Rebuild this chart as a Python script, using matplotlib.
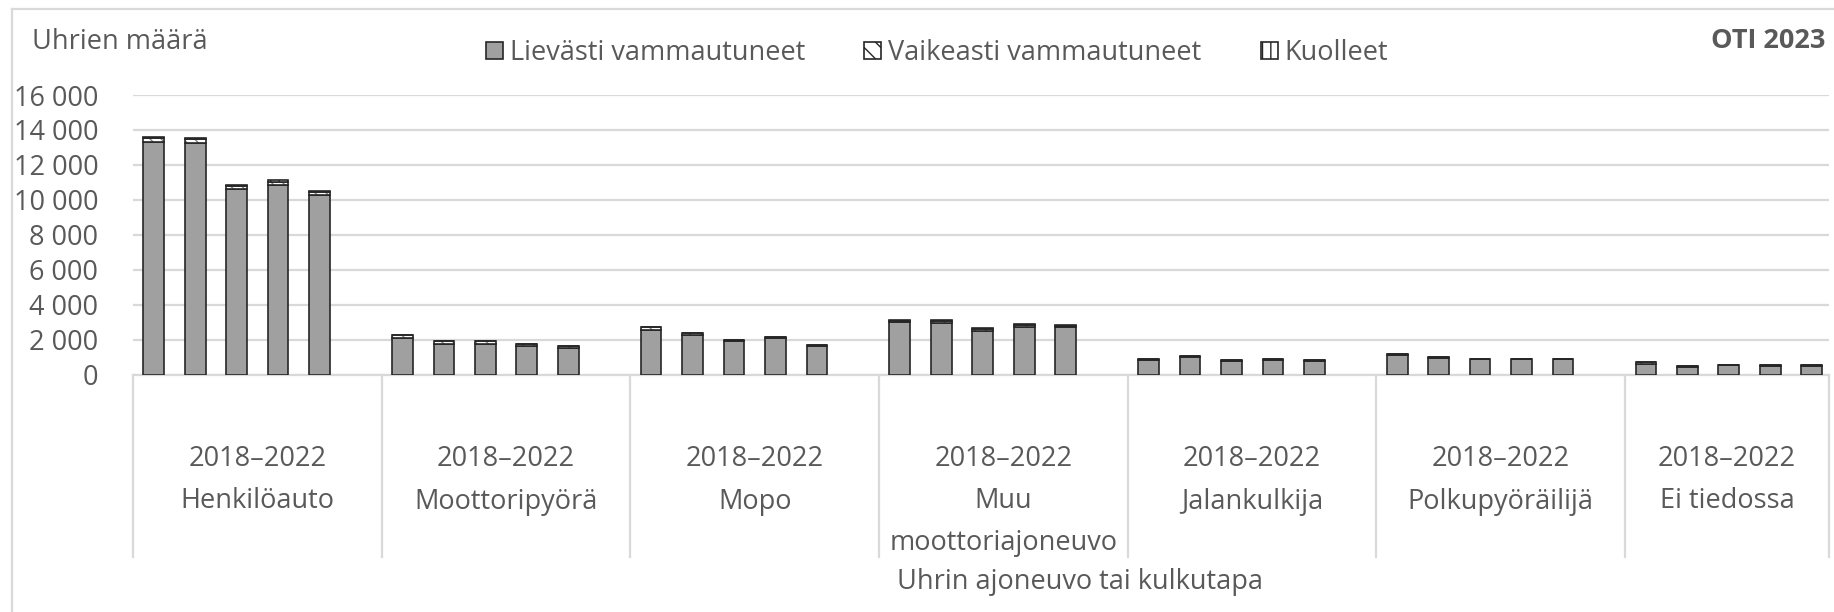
import matplotlib
matplotlib.use("Agg")
import matplotlib.pyplot as plt
from matplotlib.patches import Patch
from matplotlib.ticker import FuncFormatter, MultipleLocator
import numpy as np

# ---------------- data ----------------
groups = ["Henkilöauto", "Moottoripyörä", "Mopo", "Muu\nmoottoriajoneuvo",
          "Jalankulkija", "Polkupyöräilijä", "Ei tiedossa"]
period_label = "2018–2022"
years = [2018, 2019, 2020, 2021, 2022]

lievasti = [
    [13330, 13270, 10600, 10850, 10250],   # Henkilöauto
    [2100, 1760, 1760, 1620, 1500],        # Moottoripyörä
    [2570, 2250, 1920, 2080, 1640],        # Mopo
    [3010, 2930, 2500, 2720, 2700],        # Muu moottoriajoneuvo
    [840, 980, 780, 820, 760],             # Jalankulkija
    [1100, 940, 865, 865, 860],            # Polkupyöräilijä
    [600, 455, 520, 500, 515],             # Ei tiedossa
]
vaikeasti = [
    [180, 190, 170, 190, 170],
    [150, 130, 130, 120, 115],
    [130, 100, 70, 70, 70],
    [70, 140, 130, 130, 90],
    [45, 55, 40, 60, 55],
    [45, 40, 35, 35, 40],
    [90, 20, 25, 45, 30],
]
kuolleet = [
    [80, 70, 60, 70, 60],
    [25, 20, 20, 22, 18],
    [8, 6, 5, 5, 5],
    [20, 25, 25, 25, 20],
    [25, 25, 20, 30, 25],
    [15, 10, 10, 10, 12],
    [10, 5, 5, 5, 5],
]
series_names = ["Lievästi vammautuneet", "Vaikeasti vammautuneet", "Kuolleet"]
y_title = "Uhrien määrä"
x_title = "Uhrin ajoneuvo tai kulkutapa"
source = "OTI 2023"

# ---------------- style ----------------
FONT = "Open Sans"
FS = 19.5
TXT = "#595959"
GRID = "#d9d9d9"
GREY = "#a0a0a0"
EDGE = "#262626"
plt.rcParams["font.family"] = [FONT, "DejaVu Sans"]
plt.rcParams["hatch.linewidth"] = 1.0

W, H = 1834, 612
fig = plt.figure(figsize=(W / 100, H / 100), dpi=100)
fig.patch.set_facecolor("white")

L, R, T, B = 133, 1829, 95, 374.5
ax = fig.add_axes([L / W, 1 - B / H, (R - L) / W, (B - T) / H])

slots = 6
n_per = len(years)
xs, lv, vk, ku = [], [], [], []
for g in range(len(groups)):
    for i in range(n_per):
        xs.append(g * slots + i)
        lv.append(lievasti[g][i])
        vk.append(vaikeasti[g][i])
        ku.append(kuolleet[g][i])
xs = np.array(xs, float)
lv = np.array(lv, float)
vk = np.array(vk, float)
ku = np.array(ku, float)

bw = 0.5
ax.bar(xs, lv, bw, color=GREY, edgecolor=EDGE, linewidth=1.2, zorder=3)
# severe: hatched in grey, then black outline
ax.bar(xs, vk, bw, bottom=lv, color="white", edgecolor="#808080", hatch="\\\\\\",
       linewidth=0, zorder=3)
ax.bar(xs, vk, bw, bottom=lv, color="none", edgecolor=EDGE, linewidth=1.2, zorder=4)
ax.bar(xs, ku, bw, bottom=lv + vk, color="white", edgecolor=EDGE, hatch="||",
       linewidth=1.2, zorder=4)

ax.set_ylim(0, 16000)
xmax = (R - L) / 41.45 - 0.5
ax.set_xlim(-0.5, xmax)
ax.yaxis.set_major_locator(MultipleLocator(2000))
ax.yaxis.set_major_formatter(FuncFormatter(lambda v, p: f"{v:,.0f}".replace(",", " ")))
ax.grid(axis="y", color=GRID, linewidth=1.6, zorder=0)
ax.set_axisbelow(True)
for s in ["top", "right", "left"]:
    ax.spines[s].set_visible(False)
ax.spines["bottom"].set_color(GRID)
ax.spines["bottom"].set_linewidth(1.6)
ax.tick_params(axis="y", length=0, pad=25, labelsize=FS, labelcolor=TXT)
ax.set_xticks([])

# multi-level category axis
def fy(py):
    return 1 - py / H

trans = matplotlib.transforms.blended_transform_factory(ax.transData, fig.transFigure)
bounds = [g * slots - 0.5 for g in range(len(groups))] + [xmax]
for xb in bounds:
    ax.add_line(plt.Line2D([xb, xb], [fy(374.5), fy(557)], transform=trans,
                           color=GRID, linewidth=1.6, clip_on=False))
line_y = [459.5, 501.5, 543]
for g, name in enumerate(groups):
    x0 = g * slots - 0.5
    x1 = min(x0 + slots, xmax)
    xc = (x0 + x1) / 2
    lines = [period_label] + name.split("\n")
    for k, t in enumerate(lines):
        ax.text(xc, fy(line_y[k]), t, transform=trans, ha="center",
                va="center", fontsize=FS, color=TXT)

fig.text(1080 / W, fy(581.5), x_title, ha="center", va="center", fontsize=FS, color=TXT)
fig.text(32 / W, fy(42), y_title, ha="left", va="center", fontsize=FS, color=TXT)
fig.text(1825 / W, fy(41), source, ha="right", va="center", fontsize=FS,
         color=TXT, fontweight="bold")

# outer frame (partially cropped at right/bottom)
fig.add_artist(plt.Line2D([11.5 / W, 11.5 / W], [0, fy(9)], color=GRID, linewidth=1.6))
fig.add_artist(plt.Line2D([11.5 / W, 1], [fy(9), fy(9)], color=GRID, linewidth=1.6))

# legend
handles = [
    Patch(facecolor=GREY, edgecolor=EDGE, linewidth=1.2),
    Patch(facecolor="white", edgecolor=EDGE, hatch="\\\\", linewidth=1.2),
    Patch(facecolor="white", edgecolor=EDGE, hatch="||", linewidth=1.2),
]
leg = fig.legend(handles, series_names, loc="center", bbox_to_anchor=(937 / W, fy(53)),
                 ncol=3, frameon=False, fontsize=FS, handlelength=0.62, handleheight=0.62,
                 handletextpad=0.25, columnspacing=2.2, labelcolor=TXT)

fig.savefig("out.png", dpi=100, facecolor="white")
